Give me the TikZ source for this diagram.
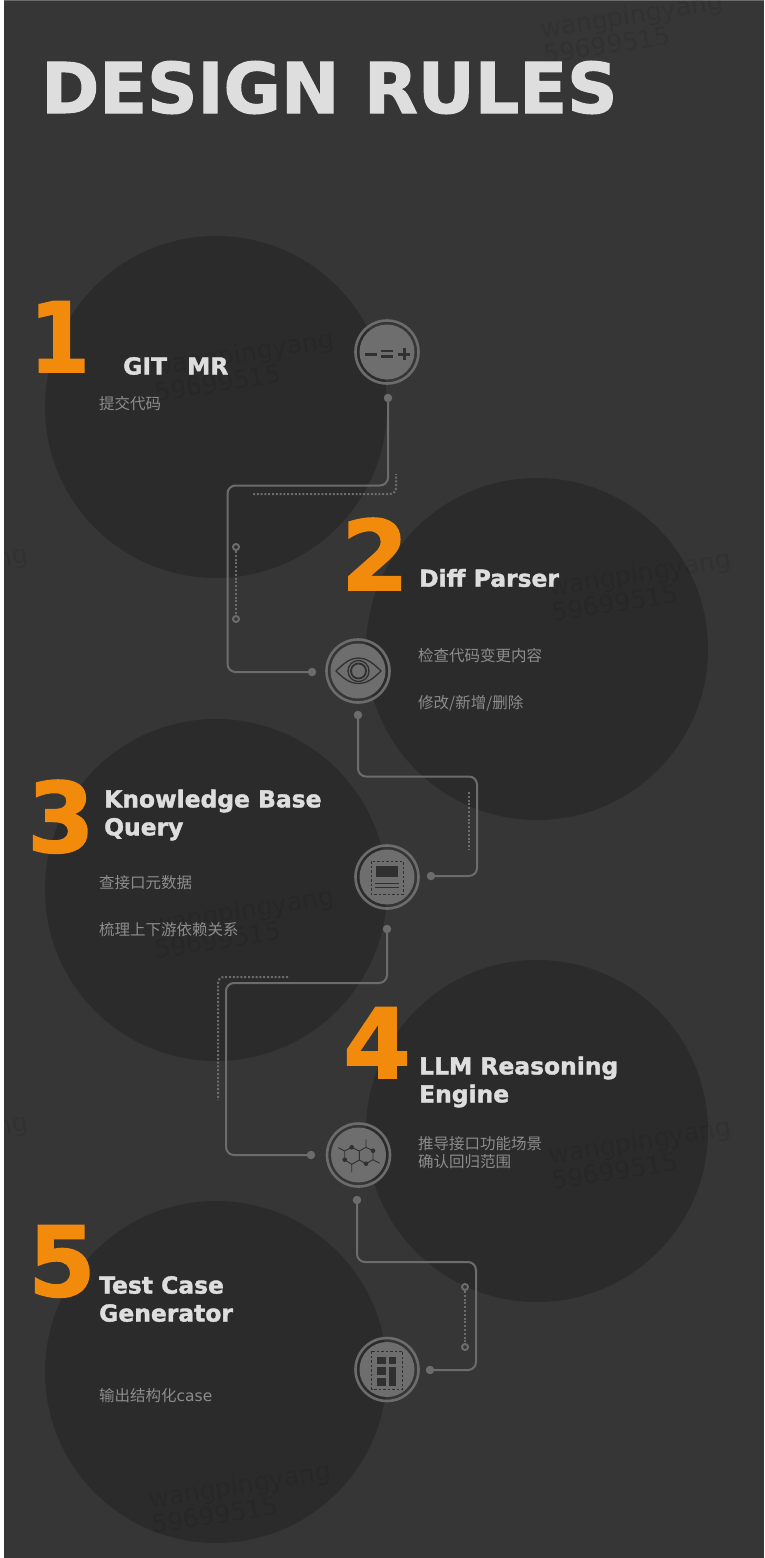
\documentclass[tikz,border=0pt]{standalone}
\usepackage{fontspec}
\setmainfont{DejaVu Sans}
\newfontfamily\cjk{Noto Sans CJK SC}
\newfontfamily\heavy[FakeBold=1.6]{DejaVu Sans Bold}
\usepackage{xcolor}
\usetikzlibrary{positioning,calc}
\definecolor{pagebg}{HTML}{363636}
\definecolor{discbg}{HTML}{2B2B2B}
\definecolor{linegray}{HTML}{6C6C6C}
\definecolor{facegray}{HTML}{6E6E6E}
\definecolor{glyphgray}{HTML}{303030}
\definecolor{numorange}{HTML}{F28A0C}

\begin{document}
\begin{tikzpicture}[
  x=1pt, y=-1pt,
  disc/.style={circle, fill=discbg, minimum size=342pt, inner sep=0pt},
  ring/.style={circle, draw=linegray, line width=2.6pt, minimum size=63pt, inner sep=0pt},
  face/.style={circle, fill=facegray, minimum size=55pt, inner sep=0pt},
  num/.style={anchor=base west, inner sep=0pt, text=numorange, font=\heavy\fontsize{97}{97}\selectfont},
  head/.style={anchor=west, inner sep=0pt, align=left, text=white!87!black, font=\heavy\fontsize{23.4}{28}\selectfont},
  sub/.style={anchor=west, inner sep=0pt, align=left, text=white!55!black, font=\cjk\fontsize{15.5}{18}\selectfont},
  wire/.style={draw=linegray, line width=2pt, rounded corners=8pt},
  dotline/.style={draw=linegray, line width=2pt, dash pattern=on 2pt off 1.8pt, rounded corners=6pt},
  enddot/.style={circle, fill=linegray, minimum size=8.5pt, inner sep=0pt},
  hollow/.style={circle, draw=linegray, line width=2pt, minimum size=6pt, inner sep=0pt},
  wmark/.style={rotate=9, inner sep=0pt, text=black, text opacity=0.075, font=\fontsize{25}{25}\selectfont},
  glyph/.style={draw=glyphgray, line width=1.3pt},
  gfill/.style={fill=glyphgray},
  gdash/.style={draw=glyphgray, line width=0.9pt, dash pattern=on 2.5pt off 2pt}
]
\useasboundingbox (0,0) rectangle (764,1558);
\clip (0,0) rectangle (764,1558);
\fill[pagebg] (4,0) rectangle (764,1558);
\fill[linegray] (4,0) rectangle (764,1);

\node[disc] (disc1) at (216,407) {};
\node[disc] (disc2) at (537,649) {};
\node[disc] (disc3) at (216,890) {};
\node[disc] (disc4) at (537,1131) {};
\node[disc] (disc5) at (216,1372) {};

\foreach \wx/\wy [count=\wi] in {632/17, 243/355, 640/575, -63/570, 243/912, 640/1143, -63/1138, 240/1487} {
  \node[wmark] (wa\wi) at (\wx,\wy) {wangpingyang};
  \node[wmark] (wb\wi) at ($(\wx,\wy)+(-25,28)$) {59699515};
}
\fill[white] (0,0) rectangle (4,1558);

\node[anchor=base west, inner sep=0pt, text=white!87!black, font=\heavy\fontsize{70}{70}\selectfont] (title) at (41,113) {DESIGN RULES};

\node[num, xscale=0.9] (num1) at (29,372) {1};
\node[num] (num2) at (341,590) {2};
\node[num] (num3) at (27,852) {3};
\node[num] (num4) at (343,1078) {4};
\node[num] (num5) at (28,1296) {5};

\node[head] (head1) at (123,366) {GIT\hspace{20pt}MR};
\node[head] (head2) at (419,578) {Diff Parser};
\node[head] (head3) at (104,815) {Knowledge Base\\Query};
\node[head] (head4) at (419,1082) {LLM Reasoning\\Engine};
\node[head] (head5) at (99,1299) {Test Case\\Generator};

\node[sub] (sub1) at (99,404) {提交代码};
\node[sub] (sub2a) at (418,656) {检查代码变更内容};
\node[sub] (sub2b) at (418,703) {修改/新增/删除};
\node[sub] (sub3a) at (99,883) {查接口元数据};
\node[sub] (sub3b) at (99,930) {梳理上下游依赖关系};
\node[sub] (sub4) at (418,1153) {推导接口功能场景\\确认回归范围};
\node[sub] (sub5) at (99,1396) {输出结构化\normalfont case};

\node[ring] (icon1) at (387,352) {};
\node[ring] (icon2) at (358,671) {};
\node[ring] (icon3) at (387,877) {};
\node[ring] (icon4) at (358.5,1155) {};
\node[ring] (icon5) at (387,1369.5) {};
\node[face] (face1) at (icon1) {};
\node[face] (face2) at (icon2) {};
\node[face] (face3) at (icon3) {};
\node[face] (face4) at (icon4) {};
\node[face] (face5) at (icon5) {};

\node[enddot] (s1) at (388,398) {};
\node[enddot] (e1) at (312,672) {};
\node[enddot] (s2) at (358,715) {};
\node[enddot] (e2) at (431,876) {};
\node[enddot] (s3) at (387,929) {};
\node[enddot] (e3) at (311,1155) {};
\node[enddot] (s4) at (357,1200) {};
\node[enddot] (e4) at (430,1370) {};

\coordinate (b1) at (227.5,485.5);
\coordinate (b2) at (477,776.5);
\coordinate (b3) at (226,983);
\coordinate (b4) at (476,1262);
\draw[wire] (s1.center) |- (b1) |- (e1.center);
\draw[wire] (s2.center) |- (b2) |- (e2.center);
\draw[wire] (s3.center) |- (b3) |- (e3.center);
\draw[wire] (s4.center) |- (b4) |- (e4.center);

\node[hollow] (h1a) at (236,547) {};
\node[hollow] (h1b) at (236,619) {};
\node[hollow] (h4a) at (465,1287) {};
\node[hollow] (h4b) at (465,1347) {};
\draw[dotline] (h1a) -- (h1b);
\draw[dotline] (h4a) -- (h4b);

\coordinate (t1a) at (253,494);
\coordinate (t1b) at (396,474);
\coordinate (t2a) at (469,792);
\coordinate (t2b) at (469,850);
\coordinate (t3a) at (288,977);
\coordinate (t3b) at (218,1100);
\draw[dotline] (t1a) -| (t1b);
\draw[dotline] (t2a) -- (t2b);
\draw[dotline] (t3a) -| (t3b);

\draw[glyph, line width=3pt] (365,354) -- (377,354);
\draw[glyph, line width=2.6pt] (381,351) -- (393,351) (381,356.5) -- (393,356.5);
\draw[glyph, line width=3pt] (398,354) -- (410,354) (404,348) -- (404,360);

\draw[glyph] (336,671) .. controls (345,662) and (351,658) .. (358.5,658) .. controls (366,658) and (372,662) .. (381,671) .. controls (372,680) and (366,683.5) .. (358.5,683.5) .. controls (351,683.5) and (345,680) .. (336,671) -- cycle;
\draw[glyph] (358.5,671) circle[radius=10.5];
\draw[glyph, line width=1.8pt] (358.5,671) circle[radius=7.5];

\draw[gdash] (371,861) rectangle (403,894);
\fill[gfill] (376,866) rectangle (398,877);
\draw[glyph, line width=0.9pt] (375,883) -- (399,883) (375,887) -- (399,887);

\draw[glyph, line width=0.9pt] (351.7,1147.3) -- (359.3,1151) -- (359.3,1160) -- (351.7,1164.3) -- (344.7,1159.7) -- (344.7,1151) -- cycle;
\draw[glyph, line width=0.9pt] (359.3,1151) -- (366,1147.3) -- (373,1150.7) -- (373,1159.7) -- (366,1163.7) -- (359.3,1160);
\draw[glyph, line width=0.9pt] (344.7,1151) -- (338.3,1147.7) (366,1147.3) -- (366,1139.3) (351.7,1164.3) -- (351.7,1172.3) (373,1159.7) -- (379.7,1163.3);
\fill[gfill] (351.7,1147.3) circle[radius=2.3] (373,1150.7) circle[radius=2.3] (344.7,1159.7) circle[radius=2.3] (366,1163.7) circle[radius=2.3];

\draw[gdash] (371.7,1351) rectangle (402.7,1389);
\fill[gfill] (377.3,1356.7) rectangle (385.7,1364.3);
\fill[gfill] (388.7,1356.7) rectangle (396,1364.3);
\fill[gfill] (377.3,1367.3) rectangle (385.7,1375);
\fill[gfill] (388.7,1367.3) rectangle (396,1385.7);
\fill[gfill] (377.3,1378.3) rectangle (385.7,1385.7);
\end{tikzpicture}
\end{document}
